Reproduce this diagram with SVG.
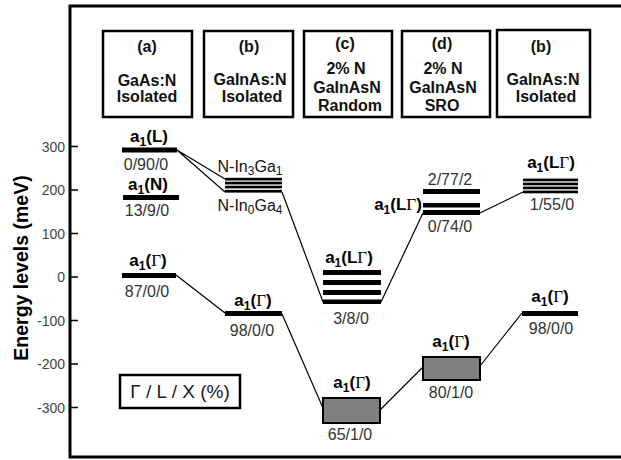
<svg xmlns="http://www.w3.org/2000/svg" width="621" height="460" viewBox="0 0 621 460">
<style>
.hb{fill:#fff;stroke:#000;stroke-width:2.5}
.ht{font-family:"Liberation Sans",Arial,sans-serif;font-weight:bold;font-size:16px;fill:#111;text-anchor:middle}
.lb{font-family:"Liberation Sans",Arial,sans-serif;font-weight:bold;font-size:17px;fill:#000;text-anchor:middle}
.nl{font-family:"Liberation Sans",Arial,sans-serif;font-size:16px;fill:#111;text-anchor:middle}
.sub{font-size:12px}
.g{font-family:"Liberation Serif",serif;font-weight:normal}
.num{font-family:"Liberation Sans",Arial,sans-serif;font-size:16px;fill:#333;text-anchor:middle}
.tk{font-family:"Liberation Sans",Arial,sans-serif;font-size:14px;fill:#444;text-anchor:end}
.bar{fill:#000}
.gb{fill:#808080;stroke:#000;stroke-width:2}
.cn{stroke:#000;stroke-width:1.2;fill:none}
</style>
<rect width="621" height="460" fill="#fff"/>
<g id="axis">
<path d="M621 6 H70 V457 H621" fill="none" stroke="#000" stroke-width="3"/>
<path d="M70 146.5h8M70 190h8M70 233.5h8M70 277h8M70 320.5h8M70 364h8M70 407.5h8" stroke="#000" stroke-width="1.5"/>
<text class="tk" x="65" y="151.5">300</text>
<text class="tk" x="65" y="195">200</text>
<text class="tk" x="65" y="238.5">100</text>
<text class="tk" x="65" y="282">0</text>
<text class="tk" x="65" y="325.5">-100</text>
<text class="tk" x="65" y="369">-200</text>
<text class="tk" x="65" y="412.5">-300</text>
<text transform="translate(28 268) rotate(-90)" font-family="'Liberation Sans',Arial,sans-serif" font-weight="bold" font-size="19.5" text-anchor="middle" fill="#000">Energy levels (meV)</text>
</g>
<g id="box-a">
<rect class="hb" x="103" y="31" width="89" height="86"/>
<text class="ht" x="147" y="52">(a)</text>
<text class="ht" x="147" y="86">GaAs:N</text>
<text class="ht" x="147" y="102">Isolated</text>
</g>
<g id="box-b">
<rect class="hb" x="204" y="31" width="89" height="86"/>
<text class="ht" x="249" y="52">(b)</text>
<text class="ht" x="250" y="85">GaInAs:N</text>
<text class="ht" x="252" y="102">Isolated</text>
</g>
<g id="box-c">
<rect class="hb" x="304" y="31" width="88" height="86"/>
<text class="ht" x="345" y="49">(c)</text>
<text class="ht" x="346" y="74">2% N</text>
<text class="ht" x="347" y="93">GaInAsN</text>
<text class="ht" x="350" y="111">Random</text>
</g>
<g id="box-d">
<rect class="hb" x="402" y="31" width="88" height="86"/>
<text class="ht" x="442" y="49">(d)</text>
<text class="ht" x="443" y="74">2% N</text>
<text class="ht" x="443" y="93">GaInAsN</text>
<text class="ht" x="442" y="111">SRO</text>
</g>
<g id="box-e">
<rect class="hb" x="497" y="30" width="93" height="87"/>
<text class="ht" x="541" y="52">(b)</text>
<text class="ht" x="543" y="85">GaInAs:N</text>
<text class="ht" x="546" y="102">Isolated</text>
</g>
<g id="connectors">
<path class="cn" d="M177 150L225 179M177 150L225 192M282 192L323 302M381 302L423 213M480 213L523 192"/>
<path class="cn" d="M176 275L225 313M282 314L323 408M380 410L423 367M480 366L522 313"/>
</g>
<g id="a-L">
<rect class="bar" x="122" y="147.5" width="55" height="5"/>
<text class="lb" x="149" y="142">a<tspan class="sub" dy="4">1</tspan><tspan dy="-4">(L)</tspan></text>
<text class="num" x="146" y="170">0/90/0</text>
</g>
<g id="a-N">
<rect class="bar" x="123" y="195" width="56" height="5"/>
<text class="lb" x="148" y="190">a<tspan class="sub" dy="4">1</tspan><tspan dy="-4">(N)</tspan></text>
<text class="num" x="147" y="216">13/9/0</text>
</g>
<g id="a-G">
<rect class="bar" x="122" y="273" width="54" height="5"/>
<text class="lb" x="148" y="266">a<tspan class="sub" dy="4">1</tspan><tspan dy="-4">(<tspan class="g">Γ</tspan>)</tspan></text>
<text class="num" x="147" y="297">87/0/0</text>
</g>
<g id="b-stack">
<rect class="bar" x="225" y="177.8" width="57" height="2.7"/>
<rect class="bar" x="225" y="181.7" width="57" height="2.7"/>
<rect class="bar" x="225" y="185.7" width="57" height="2.7"/>
<rect class="bar" x="225" y="189.9" width="57" height="2.7"/>
<text class="nl" x="250" y="172">N-In<tspan class="sub" dy="3">3</tspan><tspan dy="-3">Ga</tspan><tspan class="sub" dy="3">1</tspan></text>
<text class="nl" x="250" y="211">N-In<tspan class="sub" dy="3">0</tspan><tspan dy="-3">Ga</tspan><tspan class="sub" dy="3">4</tspan></text>
</g>
<g id="b-G">
<rect class="bar" x="225" y="311" width="57" height="5"/>
<text class="lb" x="253" y="306">a<tspan class="sub" dy="4">1</tspan><tspan dy="-4">(<tspan class="g">Γ</tspan>)</tspan></text>
<text class="num" x="252" y="336">98/0/0</text>
</g>
<g id="c-stack">
<rect class="bar" x="323" y="270" width="58" height="5"/>
<rect class="bar" x="323" y="280" width="58" height="5"/>
<rect class="bar" x="323" y="290" width="58" height="5"/>
<rect class="bar" x="323" y="299.5" width="58" height="4.5"/>
<text class="lb" x="349" y="263">a<tspan class="sub" dy="4">1</tspan><tspan dy="-4">(L<tspan class="g">Γ</tspan>)</tspan></text>
<text class="num" x="351" y="324">3/8/0</text>
</g>
<g id="c-G">
<rect class="gb" x="323" y="398" width="57" height="25"/>
<text class="lb" x="352" y="388">a<tspan class="sub" dy="4">1</tspan><tspan dy="-4">(<tspan class="g">Γ</tspan>)</tspan></text>
<text class="num" x="350" y="440">65/1/0</text>
</g>
<g id="d-stack">
<rect class="bar" x="423" y="189" width="57" height="5"/>
<rect class="bar" x="423" y="203" width="57" height="4.5"/>
<rect class="bar" x="423" y="210" width="57" height="5"/>
<text class="num" x="450" y="185">2/77/2</text>
<text class="lb" x="398" y="210">a<tspan class="sub" dy="4">1</tspan><tspan dy="-4">(L<tspan class="g">Γ</tspan>)</tspan></text>
<text class="num" x="450" y="232">0/74/0</text>
</g>
<g id="d-G">
<rect class="gb" x="423" y="357" width="57" height="23"/>
<text class="lb" x="451" y="347">a<tspan class="sub" dy="4">1</tspan><tspan dy="-4">(<tspan class="g">Γ</tspan>)</tspan></text>
<text class="num" x="451" y="398">80/1/0</text>
</g>
<g id="e-stack">
<rect class="bar" x="523" y="178.6" width="55" height="2.7"/>
<rect class="bar" x="523" y="182.6" width="55" height="2.7"/>
<rect class="bar" x="523" y="186.6" width="55" height="2.7"/>
<rect class="bar" x="523" y="190.6" width="55" height="2.7"/>
<text class="lb" x="551" y="168">a<tspan class="sub" dy="4">1</tspan><tspan dy="-4">(L<tspan class="g">Γ</tspan>)</tspan></text>
<text class="num" x="552" y="210">1/55/0</text>
</g>
<g id="e-G">
<rect class="bar" x="522" y="311" width="56" height="5"/>
<text class="lb" x="550" y="302">a<tspan class="sub" dy="4">1</tspan><tspan dy="-4">(<tspan class="g">Γ</tspan>)</tspan></text>
<text class="num" x="551" y="334">98/0/0</text>
</g>
<g id="legend">
<rect x="120" y="375" width="120" height="33" fill="#fff" stroke="#000" stroke-width="2.5"/>
<text x="180" y="398" font-family="'Liberation Sans',Arial,sans-serif" font-size="19" fill="#222" text-anchor="middle">Γ / L / X (%)</text>
</g>
</svg>
